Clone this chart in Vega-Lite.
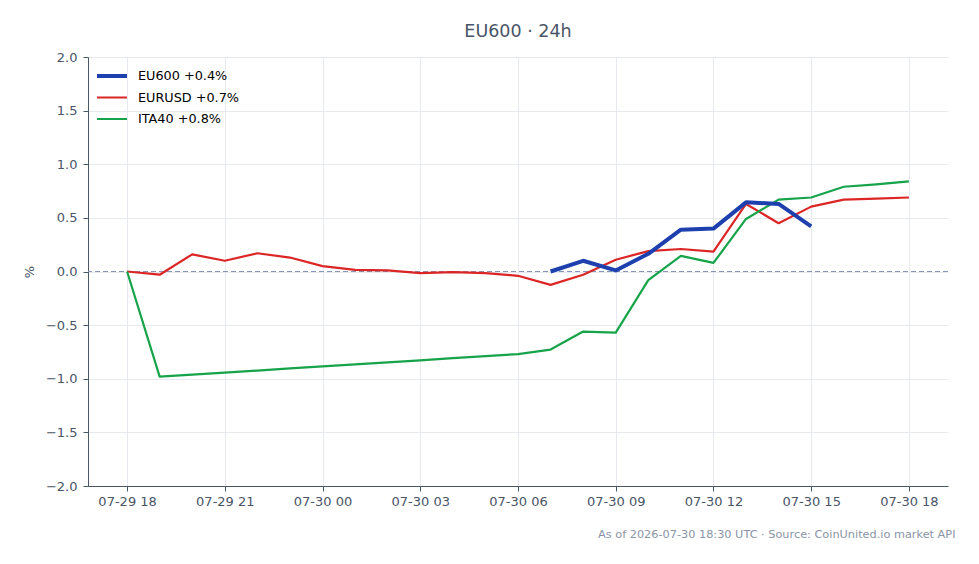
{
  "$schema": "https://vega.github.io/schema/vega-lite/v6.json",
  "autosize": "none",
  "width": 860,
  "height": 429,
  "padding": {"left": 88, "top": 57, "right": 31, "bottom": 78},
  "background": "white",
  "config": {
    "font": "DejaVu Sans",
    "view": {"stroke": null},
    "axis": {
      "labelFont": "DejaVu Sans",
      "labelFontSize": 13,
      "labelColor": "#4a5568",
      "domainColor": "#4a5568",
      "tickColor": "#4a5568",
      "tickSize": 5,
      "grid": true,
      "gridColor": "#e6e9ee",
      "gridWidth": 1,
      "titleFont": "DejaVu Sans",
      "titleFontWeight": "normal",
      "titleColor": "#4a5568"
    },
    "legend": {"labelFont": "DejaVu Sans"}
  },
  "title": {
    "text": "EU600 · 24h",
    "font": "DejaVu Sans",
    "fontSize": 17.5,
    "fontWeight": "normal",
    "color": "#4a5568",
    "anchor": "middle",
    "offset": 11
  },
  "data": {
    "values": [
      {"t": "2026-07-29T18:00:00Z", "s": "EURUSD +0.7%", "v": 0.0},
      {"t": "2026-07-29T19:00:00Z", "s": "EURUSD +0.7%", "v": -0.03},
      {"t": "2026-07-29T20:00:00Z", "s": "EURUSD +0.7%", "v": 0.16},
      {"t": "2026-07-29T21:00:00Z", "s": "EURUSD +0.7%", "v": 0.10},
      {"t": "2026-07-29T22:00:00Z", "s": "EURUSD +0.7%", "v": 0.17},
      {"t": "2026-07-29T23:00:00Z", "s": "EURUSD +0.7%", "v": 0.13},
      {"t": "2026-07-30T00:00:00Z", "s": "EURUSD +0.7%", "v": 0.05},
      {"t": "2026-07-30T01:00:00Z", "s": "EURUSD +0.7%", "v": 0.015},
      {"t": "2026-07-30T02:00:00Z", "s": "EURUSD +0.7%", "v": 0.01},
      {"t": "2026-07-30T03:00:00Z", "s": "EURUSD +0.7%", "v": -0.015},
      {"t": "2026-07-30T04:00:00Z", "s": "EURUSD +0.7%", "v": -0.005},
      {"t": "2026-07-30T05:00:00Z", "s": "EURUSD +0.7%", "v": -0.015},
      {"t": "2026-07-30T06:00:00Z", "s": "EURUSD +0.7%", "v": -0.04},
      {"t": "2026-07-30T07:00:00Z", "s": "EURUSD +0.7%", "v": -0.125},
      {"t": "2026-07-30T08:00:00Z", "s": "EURUSD +0.7%", "v": -0.03},
      {"t": "2026-07-30T09:00:00Z", "s": "EURUSD +0.7%", "v": 0.11},
      {"t": "2026-07-30T10:00:00Z", "s": "EURUSD +0.7%", "v": 0.19},
      {"t": "2026-07-30T11:00:00Z", "s": "EURUSD +0.7%", "v": 0.21},
      {"t": "2026-07-30T12:00:00Z", "s": "EURUSD +0.7%", "v": 0.185},
      {"t": "2026-07-30T13:00:00Z", "s": "EURUSD +0.7%", "v": 0.63},
      {"t": "2026-07-30T14:00:00Z", "s": "EURUSD +0.7%", "v": 0.45},
      {"t": "2026-07-30T15:00:00Z", "s": "EURUSD +0.7%", "v": 0.605},
      {"t": "2026-07-30T16:00:00Z", "s": "EURUSD +0.7%", "v": 0.67},
      {"t": "2026-07-30T17:00:00Z", "s": "EURUSD +0.7%", "v": 0.68},
      {"t": "2026-07-30T18:00:00Z", "s": "EURUSD +0.7%", "v": 0.69},

      {"t": "2026-07-29T18:00:00Z", "s": "ITA40 +0.8%", "v": 0.0},
      {"t": "2026-07-29T19:00:00Z", "s": "ITA40 +0.8%", "v": -0.98},
      {"t": "2026-07-29T20:00:00Z", "s": "ITA40 +0.8%", "v": -0.962},
      {"t": "2026-07-29T21:00:00Z", "s": "ITA40 +0.8%", "v": -0.943},
      {"t": "2026-07-29T22:00:00Z", "s": "ITA40 +0.8%", "v": -0.924},
      {"t": "2026-07-29T23:00:00Z", "s": "ITA40 +0.8%", "v": -0.904},
      {"t": "2026-07-30T00:00:00Z", "s": "ITA40 +0.8%", "v": -0.885},
      {"t": "2026-07-30T01:00:00Z", "s": "ITA40 +0.8%", "v": -0.866},
      {"t": "2026-07-30T02:00:00Z", "s": "ITA40 +0.8%", "v": -0.847},
      {"t": "2026-07-30T03:00:00Z", "s": "ITA40 +0.8%", "v": -0.828},
      {"t": "2026-07-30T04:00:00Z", "s": "ITA40 +0.8%", "v": -0.808},
      {"t": "2026-07-30T05:00:00Z", "s": "ITA40 +0.8%", "v": -0.789},
      {"t": "2026-07-30T06:00:00Z", "s": "ITA40 +0.8%", "v": -0.77},
      {"t": "2026-07-30T07:00:00Z", "s": "ITA40 +0.8%", "v": -0.728},
      {"t": "2026-07-30T08:00:00Z", "s": "ITA40 +0.8%", "v": -0.56},
      {"t": "2026-07-30T09:00:00Z", "s": "ITA40 +0.8%", "v": -0.57},
      {"t": "2026-07-30T10:00:00Z", "s": "ITA40 +0.8%", "v": -0.08},
      {"t": "2026-07-30T11:00:00Z", "s": "ITA40 +0.8%", "v": 0.145},
      {"t": "2026-07-30T12:00:00Z", "s": "ITA40 +0.8%", "v": 0.08},
      {"t": "2026-07-30T13:00:00Z", "s": "ITA40 +0.8%", "v": 0.49},
      {"t": "2026-07-30T14:00:00Z", "s": "ITA40 +0.8%", "v": 0.67},
      {"t": "2026-07-30T15:00:00Z", "s": "ITA40 +0.8%", "v": 0.69},
      {"t": "2026-07-30T16:00:00Z", "s": "ITA40 +0.8%", "v": 0.79},
      {"t": "2026-07-30T17:00:00Z", "s": "ITA40 +0.8%", "v": 0.813},
      {"t": "2026-07-30T18:00:00Z", "s": "ITA40 +0.8%", "v": 0.84},

      {"t": "2026-07-30T07:00:00Z", "s": "EU600 +0.4%", "v": 0.0},
      {"t": "2026-07-30T08:00:00Z", "s": "EU600 +0.4%", "v": 0.10},
      {"t": "2026-07-30T09:00:00Z", "s": "EU600 +0.4%", "v": 0.01},
      {"t": "2026-07-30T10:00:00Z", "s": "EU600 +0.4%", "v": 0.165},
      {"t": "2026-07-30T11:00:00Z", "s": "EU600 +0.4%", "v": 0.39},
      {"t": "2026-07-30T12:00:00Z", "s": "EU600 +0.4%", "v": 0.40},
      {"t": "2026-07-30T13:00:00Z", "s": "EU600 +0.4%", "v": 0.645},
      {"t": "2026-07-30T14:00:00Z", "s": "EU600 +0.4%", "v": 0.63},
      {"t": "2026-07-30T15:00:00Z", "s": "EU600 +0.4%", "v": 0.42}
    ]
  },
  "layer": [
    {
      "mark": {"type": "rule", "strokeDash": [5, 3], "strokeWidth": 1, "color": "#8796b8"},
      "encoding": {"y": {"datum": 0, "type": "quantitative"}}
    },
    {
      "mark": {"type": "line", "strokeJoin": "round", "strokeCap": "butt"},
      "encoding": {
        "x": {
          "field": "t",
          "type": "temporal",
          "scale": {
            "type": "utc",
            "domain": [
              {"year": 2026, "month": 7, "date": 29, "hours": 16, "minutes": 48, "utc": true},
              {"year": 2026, "month": 7, "date": 30, "hours": 19, "minutes": 12, "utc": true}
            ]
          },
          "axis": {
            "format": "%m-%d %H",
            "values": [
              {"year": 2026, "month": 7, "date": 29, "hours": 18, "utc": true},
              {"year": 2026, "month": 7, "date": 29, "hours": 21, "utc": true},
              {"year": 2026, "month": 7, "date": 30, "hours": 0, "utc": true},
              {"year": 2026, "month": 7, "date": 30, "hours": 3, "utc": true},
              {"year": 2026, "month": 7, "date": 30, "hours": 6, "utc": true},
              {"year": 2026, "month": 7, "date": 30, "hours": 9, "utc": true},
              {"year": 2026, "month": 7, "date": 30, "hours": 12, "utc": true},
              {"year": 2026, "month": 7, "date": 30, "hours": 15, "utc": true},
              {"year": 2026, "month": 7, "date": 30, "hours": 18, "utc": true}
            ],
            "labelPadding": 4,
            "title": "As of 2026-07-30 18:30 UTC · Source: CoinUnited.io market API",
            "titleFontSize": 11.3,
            "titleColor": "#8a94a6",
            "titleAnchor": "end",
            "titleAlign": "right",
            "titleX": 867,
            "titleY": 51,
            "titleBaseline": "alphabetic"
          }
        },
        "y": {
          "field": "v",
          "type": "quantitative",
          "scale": {"domain": [-2, 2], "nice": false},
          "axis": {
            "values": [-2, -1.5, -1, -0.5, 0, 0.5, 1, 1.5, 2],
            "format": ".1f",
            "grid": true,
            "title": "%",
            "titleFontSize": 13,
            "titlePadding": 9,
            "labelPadding": 6
          }
        },
        "color": {
          "field": "s",
          "type": "nominal",
          "scale": {
            "domain": ["EU600 +0.4%", "EURUSD +0.7%", "ITA40 +0.8%"],
            "range": ["#1e40af", "#dc2626", "#16a34a"]
          },
          "legend": {
            "title": null,
            "orient": "none",
            "legendX": 7,
            "legendY": 12.5,
            "symbolType": "stroke",
            "symbolSize": 900,
            "clipHeight": 13,
            "labelFontSize": 12.8,
            "labelColor": "#000000",
            "labelOffset": 9,
            "rowPadding": 7.5
          }
        },
        "strokeWidth": {
          "field": "s",
          "type": "nominal",
          "scale": {
            "type": "ordinal",
            "domain": ["EU600 +0.4%", "EURUSD +0.7%", "ITA40 +0.8%"],
            "range": [4, 2.2, 2.2]
          },
          "legend": {
            "title": null,
            "orient": "none",
            "legendX": 7,
            "legendY": 12.5,
            "symbolType": "stroke",
            "symbolSize": 900,
            "clipHeight": 13,
            "labelFontSize": 12.8,
            "labelColor": "#000000",
            "labelOffset": 9,
            "rowPadding": 7.5
          }
        },
        "order": {"field": "t", "type": "temporal"}
      }
    }
  ]
}
